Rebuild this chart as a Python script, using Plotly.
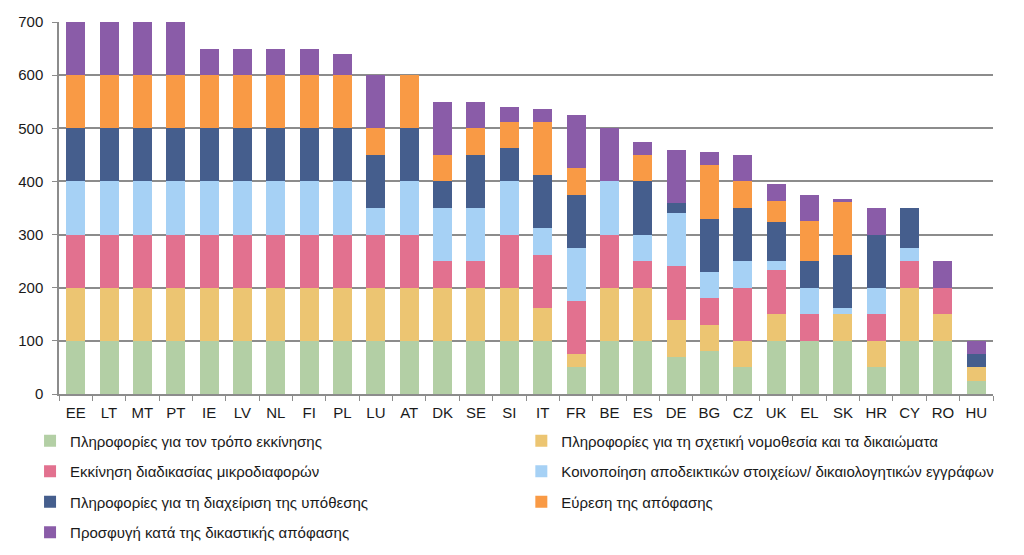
import plotly.graph_objects as go

countries = ["EE", "LT", "MT", "PT", "IE", "LV", "NL", "FI", "PL", "LU", "AT", "DK", "SE", "SI",
             "IT", "FR", "BE", "ES", "DE", "BG", "CZ", "UK", "EL", "SK", "HR", "CY", "RO", "HU"]

series_names = [
    "Πληροφορίες για τον τρόπο εκκίνησης",
    "Πληροφορίες για τη σχετική νομοθεσία και τα δικαιώματα",
    "Εκκίνηση διαδικασίας μικροδιαφορών",
    "Κοινοποίηση αποδεικτικών στοιχείων/ δικαιολογητικών εγγράφων",
    "Πληροφορίες για τη διαχείριση της υπόθεσης",
    "Εύρεση της απόφασης",
    "Προσφυγή κατά της δικαστικής απόφασης",
]

info_start = [100, 100, 100, 100, 100, 100, 100, 100, 100, 100, 100, 100, 100, 100,
              100, 50, 100, 100, 70, 80, 50, 100, 100, 100, 50, 100, 100, 25]
info_law = [100, 100, 100, 100, 100, 100, 100, 100, 100, 100, 100, 100, 100, 100,
            62, 25, 100, 100, 70, 50, 50, 50, 0, 50, 50, 100, 50, 25]
start_proc = [100, 100, 100, 100, 100, 100, 100, 100, 100, 100, 100, 50, 50, 100,
              100, 100, 100, 50, 100, 50, 100, 83, 50, 0, 50, 50, 50, 0]
evidence = [100, 100, 100, 100, 100, 100, 100, 100, 100, 50, 100, 100, 100, 100,
            50, 100, 100, 50, 100, 50, 50, 17, 50, 12, 50, 25, 0, 0]
case_mgmt = [100, 100, 100, 100, 100, 100, 100, 100, 100, 100, 100, 50, 100, 62,
             100, 100, 0, 100, 20, 100, 100, 74, 50, 100, 100, 75, 0, 25]
find_judg = [100, 100, 100, 100, 100, 100, 100, 100, 100, 50, 100, 50, 50, 50,
             100, 50, 0, 50, 0, 100, 50, 39, 75, 100, 0, 0, 0, 0]
appeal = [100, 100, 100, 100, 50, 50, 50, 50, 40, 100, 0, 100, 50, 28,
          25, 100, 100, 25, 100, 25, 50, 33, 50, 5, 50, 0, 50, 25]

values = [info_start, info_law, start_proc, evidence, case_mgmt, find_judg, appeal]
colors = ["#b3cfa5", "#ecc572", "#e2718f", "#a6d1f5", "#455e8d", "#f99a45", "#8a5ca8"]
legend_ids = ["legend", "legend2", "legend", "legend2", "legend", "legend2", "legend"]

fig = go.Figure()
for i, (name, vals, col) in enumerate(zip(series_names, values, colors)):
    fig.add_trace(go.Bar(
        x=countries, y=vals, name=name, marker=dict(color=col, line=dict(width=0)),
        legendgroup="g%d" % i, legend=legend_ids[i],
    ))

tick_font = dict(family="Liberation Sans Narrow, Liberation Sans, Arial", size=15, color="#1a1a1a")
leg_font = dict(family="Liberation Sans, Arial", size=15, color="#1a1a1a")

fig.update_layout(
    width=1024, height=555,
    margin=dict(l=59, r=31, t=22, b=161, autoexpand=False),
    barmode="stack", bargap=0.43,
    plot_bgcolor="white", paper_bgcolor="white",
    xaxis=dict(
        showgrid=False, showline=True, linecolor="#8c8c8c", linewidth=1.5,
        ticks="outside", tickson="boundaries", ticklen=5, tickcolor="#8c8c8c",
        tickfont=tick_font, ticklabelstandoff=4,
    ),
    yaxis=dict(
        range=[0, 700], tickvals=[0, 100, 200, 300, 400, 500, 600, 700],
        showgrid=True, gridcolor="#8c8c8c", gridwidth=1.5,
        showline=True, linecolor="#8c8c8c", linewidth=1.5,
        ticks="outside", ticklen=5, tickcolor="#8c8c8c",
        tickfont=tick_font, zeroline=False, ticklabelstandoff=6,
    ),
    legend=dict(
        x=-0.031, y=-0.082, xanchor="left", yanchor="top", orientation="v",
        traceorder="grouped", tracegroupgap=8, font=leg_font, bgcolor="rgba(0,0,0,0)",
    ),
    legend2=dict(
        x=0.495, y=-0.082, xanchor="left", yanchor="top", orientation="v",
        traceorder="grouped", tracegroupgap=8, font=leg_font, bgcolor="rgba(0,0,0,0)",
    ),
)

fig.write_html("out.html")
